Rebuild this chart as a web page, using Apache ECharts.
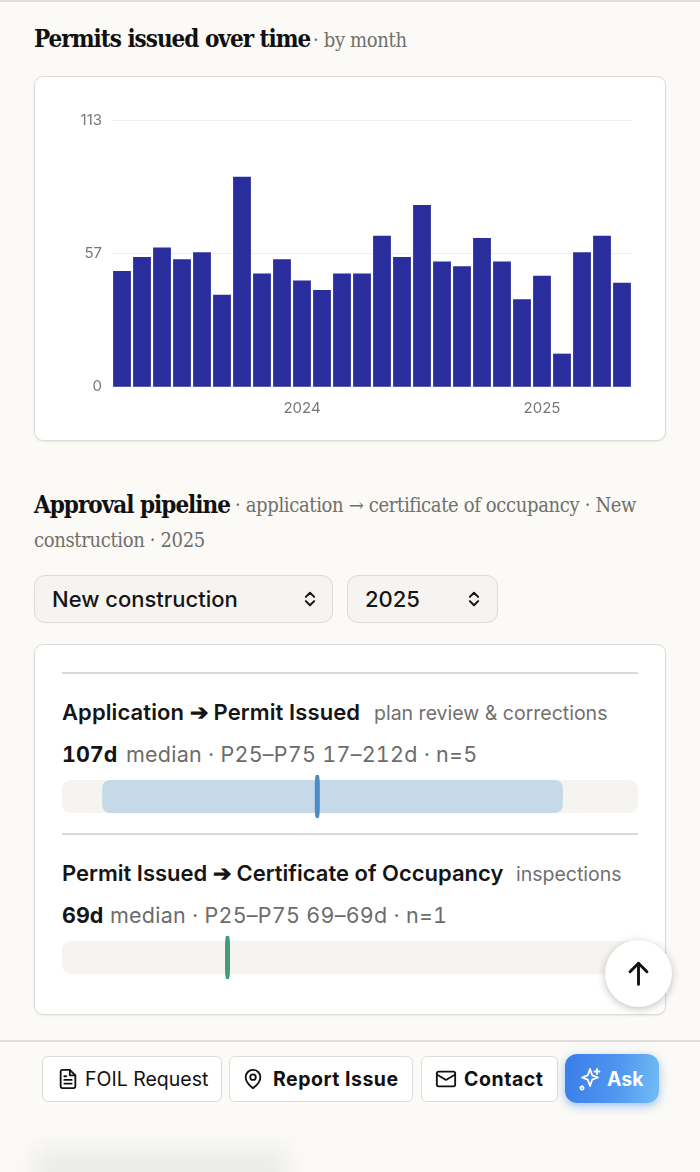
<!DOCTYPE html>
<html><head><meta charset="utf-8">
<script src="https://cdn.jsdelivr.net/npm/echarts@6/dist/echarts.min.js"></script>
<style>
*{box-sizing:border-box}
html,body{margin:0;padding:0;width:700px;height:1172px;overflow:hidden;background:#fbfaf6;font-family:Inter,sans-serif;color:#111}
.abs{position:absolute;white-space:nowrap}
.card{position:absolute;left:34px;width:632px;background:#fff;border:1.5px solid #dcdbd8;border-radius:9px;box-shadow:0 1px 2px rgba(0,0,0,.07)}
.h{font-family:"DejaVu Serif Condensed","DejaVu Serif",serif;font-weight:700;font-size:24px;color:#111;letter-spacing:-1px;line-height:35px}
.s{font-family:"DejaVu Serif Condensed","DejaVu Serif",serif;font-weight:400;font-size:20px;color:#6f6f6b;letter-spacing:-.35px;line-height:35px}
.sel{position:absolute;top:575px;height:48px;background:#f6f4f0;border:1.5px solid #dcdbd6;border-radius:11px;font-weight:500;font-size:22px;line-height:46px;padding-left:17px;color:#151515}
.sel svg{position:absolute;top:13px;width:20px;height:20px}
.rule{position:absolute;left:62px;width:576px;height:1.5px;background:#d9d9d6}
.t{font-weight:600;font-size:22px;color:#151515;line-height:28px}
.u{font-weight:400;font-size:19.5px;color:#707070;line-height:28px}
.b{font-weight:700;font-size:21.5px;color:#151515;font-variant-numeric:tabular-nums}
.m{font-weight:400;font-size:21.5px;color:#6c6c6c;font-variant-numeric:tabular-nums;letter-spacing:.25px}
.btn{position:absolute;top:1056px;height:46px;background:#fff;border:1.5px solid #dcdcd9;border-radius:6px;font-size:19.5px;line-height:45px;color:#111}
.btn svg{position:absolute;top:11px;width:22px;height:22px}
.btn span{position:absolute;top:0;white-space:nowrap}
#chart{position:absolute;left:0;top:0;width:700px;height:1172px;pointer-events:none}
</style></head><body>
<div class="abs" style="left:0;top:0;width:700px;height:2px;background:#dedede"></div>
<div class="abs h" style="left:34px;top:21px">Permits issued over time</div>
<div class="abs s" style="left:313px;top:23px">· by month</div>
<div class="card" style="top:76px;height:365px"></div>

<div class="abs h" style="left:34px;top:487px">Approval pipeline</div>
<div class="abs s" style="left:235px;top:488px">· application → certificate of occupancy · New</div>
<div class="abs s" style="left:34px;top:523px">construction · 2025</div>

<div class="sel" style="left:34px;width:299px">New construction<svg style="left:265px" viewBox="0 0 24 24" fill="none" stroke="#151515" stroke-width="2.4" stroke-linecap="round" stroke-linejoin="round"><path d="M7 9.5l5-5 5 5M7 14.5l5 5 5-5"/></svg></div>
<div class="sel" style="left:347px;width:151px">2025<svg style="left:116px" viewBox="0 0 24 24" fill="none" stroke="#151515" stroke-width="2.4" stroke-linecap="round" stroke-linejoin="round"><path d="M7 9.5l5-5 5 5M7 14.5l5 5 5-5"/></svg></div>

<div class="card" style="top:644px;height:371px"></div>
<div class="rule" style="top:672px"></div>
<div class="abs t" style="left:62px;top:698px;letter-spacing:.1px">Application ➔ Permit Issued</div>
<div class="abs u" style="left:374px;top:699px">plan review &amp; corrections</div>
<div class="abs b" style="left:62px;top:741px">107d</div>
<div class="abs m" style="left:126px;top:741px">median · P25–P75 17–212d · n=5</div>
<div class="rule" style="top:833px"></div>
<div class="abs t" style="left:62px;top:859px">Permit Issued ➔ Certificate of Occupancy</div>
<div class="abs u" style="left:516px;top:860px">inspections</div>
<div class="abs b" style="left:62px;top:902px">69d</div>
<div class="abs m" style="left:110px;top:902px">median · P25–P75 69–69d · n=1</div>

<div class="abs" style="left:0;top:1040px;width:700px;height:1.5px;background:#dfdedb"></div>

<div class="btn" style="left:42px;width:180px"><svg style="left:14px" viewBox="0 0 24 24" fill="none" stroke="#111" stroke-width="2" stroke-linecap="round" stroke-linejoin="round"><path d="M14 2H6a2 2 0 0 0-2 2v16a2 2 0 0 0 2 2h12a2 2 0 0 0 2-2V8z"/><path d="M14 2v6h6M8 13h8M8 17h8M8 9h2"/></svg><span style="left:42px">FOIL Request</span></div>
<div class="btn" style="left:229px;width:184px"><svg style="left:12px" viewBox="0 0 24 24" fill="none" stroke="#111" stroke-width="2" stroke-linecap="round" stroke-linejoin="round"><path d="M20 10c0 6-8 12-8 12s-8-6-8-12a8 8 0 0 1 16 0z"/><circle cx="12" cy="10" r="3"/></svg><span style="left:43px;font-weight:700;letter-spacing:.5px">Report Issue</span></div>
<div class="btn" style="left:421px;width:137px"><svg style="left:13px" viewBox="0 0 24 24" fill="none" stroke="#111" stroke-width="2" stroke-linecap="round" stroke-linejoin="round"><rect x="2" y="4" width="20" height="16" rx="2"/><path d="M22 7l-10 6L2 7"/></svg><span style="left:42px;font-weight:700;letter-spacing:.55px">Contact</span></div>
<div style="position:absolute;left:565px;top:1054px;width:94px;height:49px;border-radius:12px;background:linear-gradient(100deg,#3a7ce8,#4f97ee 55%,#72bdf6);box-shadow:0 3px 10px rgba(70,140,235,.5);color:#fff;font-weight:700;font-size:19.5px;line-height:50px"><svg style="position:absolute;left:13px;top:13px;width:24px;height:24px" viewBox="0 0 24 24" fill="none" stroke="#fff" stroke-width="1.8" stroke-linecap="round" stroke-linejoin="round"><path d="M11 5l2.2 6.3L19 13.5l-5.8 2.2L11 22l-2.2-6.3L3 13.5l5.8-2.2z" transform="translate(1 -3)"/><path d="M19 2v5M16.5 4.5h5M4 19.5a1.6 1.6 0 1 0 .01 0"/></svg><span style="position:absolute;left:42px">Ask</span></div>

<div class="abs" style="left:36px;top:1150px;width:250px;height:40px;background:#eaeae7;filter:blur(11px)"></div>

<div id="chart"></div>

<div style="position:absolute;left:605px;top:940px;width:67px;height:67px;border-radius:50%;background:#fff;box-shadow:0 2px 9px rgba(0,0,0,.24)"><svg style="position:absolute;left:19px;top:19px;width:29px;height:29px" viewBox="0 0 24 24" fill="none" stroke="#111" stroke-width="2.4" stroke-linecap="round" stroke-linejoin="round"><path d="M12 21V3.5M5 10.5l7-7 7 7"/></svg></div>

<script>
var months = ['2023-04','2023-05','2023-06','2023-07','2023-08','2023-09','2023-10','2023-11','2023-12',
  '2024-01','2024-02','2024-03','2024-04','2024-05','2024-06','2024-07','2024-08','2024-09','2024-10','2024-11','2024-12',
  '2025-01','2025-02','2025-03','2025-04','2025-05'];
var permits = [49,55,59,54,57,39,89,48,54,45,41,48,48,64,55,77,53,51,63,53,37,47,14,57,64,44];
var yTickLabels = ['0','57','113'];
var yMax = 113;
var stages = ['Application → Permit Issued','Permit Issued → Certificate of Occupancy'];
var p25 = [17,69];
var p75 = [212,69];
var medians = [107,69];
var stageMax = 243.8;
var rangeColors = ['#c5d9e8','#cfe5da'];
var markColors = ['#4c8bc6','#3f9e78'];
var trackColor = '#f6f4f0';

var grids = [{left:112,top:120,width:520,height:266.7}];
var xAxes = [{type:'category',gridIndex:0,data:months,
  axisLine:{show:false},axisTick:{show:false},
  axisLabel:{color:'#777',fontFamily:'Inter',fontSize:15,margin:14,
    interval:function(i,v){return v.slice(5)==='01';},
    formatter:function(v){return v.slice(0,4);}}}];
var yAxes = [{type:'value',gridIndex:0,min:0,max:yMax,interval:yMax/2,
  axisLine:{show:false},axisTick:{show:false},
  splitLine:{lineStyle:{color:'#efefed',width:1}},
  axisLabel:{color:'#777',fontFamily:'Inter',fontSize:15,margin:10,padding:[2,0,0,0],
    formatter:function(v){return yTickLabels[Math.round(v/(yMax/2))];}}}];
var series = [{type:'bar',name:'Permits issued',xAxisIndex:0,yAxisIndex:0,data:permits,barWidth:'89%',
  itemStyle:{color:'#2a2d9c'}}];

[{top:775},{top:936}].forEach(function(g,i){
  var k=i+1;
  grids.push({left:62,width:576,top:g.top,height:43});
  xAxes.push({type:'value',gridIndex:k,min:0,max:stageMax,show:false});
  yAxes.push({type:'category',gridIndex:k,data:[stages[i]],show:false});
  series.push({type:'bar',stack:'s'+k,xAxisIndex:k,yAxisIndex:k,barWidth:33,data:[p25[i]],
    itemStyle:{color:'rgba(0,0,0,0)'},showBackground:true,
    backgroundStyle:{color:trackColor,borderRadius:9}});
  series.push({type:'bar',stack:'s'+k,xAxisIndex:k,yAxisIndex:k,barWidth:33,data:[p75[i]-p25[i]],
    itemStyle:{color:rangeColors[i],borderRadius:8}});
  series.push({type:'scatter',xAxisIndex:k,yAxisIndex:k,data:[[medians[i],stages[i]]],
    symbol:'roundRect',symbolSize:[5,43],symbolOffset:[2.5,0],z:5,
    itemStyle:{color:markColors[i],opacity:1}});
});

var chart = echarts.init(document.getElementById('chart'),null,{renderer:'canvas'});
chart.setOption({animation:false,backgroundColor:'transparent',tooltip:{show:false},
  grid:grids,xAxis:xAxes,yAxis:yAxes,series:series});
</script>
</body></html>
